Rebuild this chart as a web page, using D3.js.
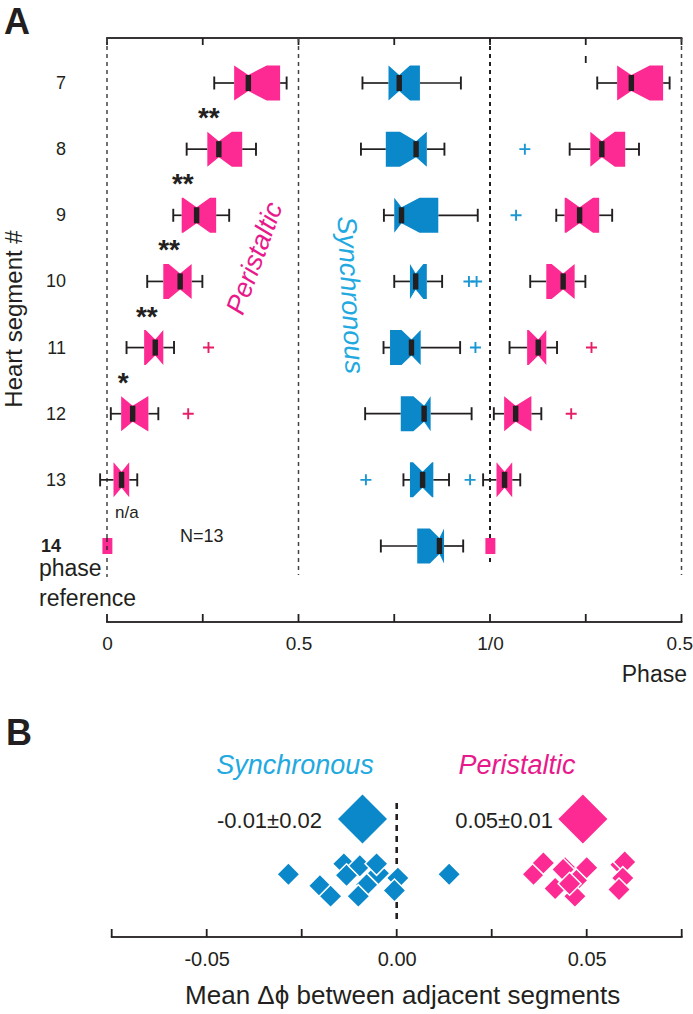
<!DOCTYPE html>
<html><head><meta charset="utf-8">
<script src="https://cdn.jsdelivr.net/npm/d3@7"></script>
<style>body{margin:0;background:#fff}svg{display:block;font-family:"Liberation Sans",Arial,sans-serif}</style>
</head><body><svg id="c" width="693" height="1014"></svg>
<script>
// ---------- Panel A data (phase, fraction of cycle) ----------
const segments = [7, 8, 9, 10, 11, 12, 13, 14];
const periSegments = [7, 8, 9, 10, 11, 12, 13];
const periWhiskerLo = [0.280, 0.208, 0.173, 0.105, 0.051, 0.010, -0.018];
const periQ1        = [0.332, 0.262, 0.195, 0.147, 0.097, 0.037, 0.017];
const periMedian    = [0.369, 0.292, 0.234, 0.191, 0.126, 0.067, 0.038];
const periQ3        = [0.452, 0.353, 0.285, 0.221, 0.147, 0.108, 0.058];
const periWhiskerHi = [0.469, 0.389, 0.319, 0.249, 0.175, 0.134, 0.079];
const periNotch     = [0.048, 0.034, 0.035, 0.030, 0.025, 0.040, 0.025];
const periOutlierSeg = [11, 12];
const periOutlierVal = [0.265, 0.212];
const refSeg = 14, refLo = -0.012, refHi = 0.014;   // phase reference segment

const syncSegments = [7, 8, 9, 10, 11, 12, 13, 14];
const syncWhiskerLo = [0.667, 0.663, 0.723, 0.750, 0.722, 0.674, 0.774, 0.715];
const syncQ1        = [0.735, 0.728, 0.750, 0.791, 0.739, 0.767, 0.791, 0.810];
const syncMedian    = [0.763, 0.807, 0.769, 0.806, 0.795, 0.828, 0.824, 0.868];
const syncQ3        = [0.817, 0.835, 0.865, 0.835, 0.819, 0.845, 0.852, 0.880];
const syncWhiskerHi = [0.924, 0.881, 0.968, 0.875, 0.922, 0.952, 0.893, 0.930];
const syncNotch     = [0.028, 0.042, 0.047, 0.020, 0.026, 0.028, 0.025, 0.025];
const syncOutlierSeg = [8, 9, 10, 10, 11, 13, 13];
const syncOutlierVal = [1.091, 1.068, 0.945, 0.965, 0.962, 0.676, 0.948];

const starSeg   = [7.5, 8.5, 9.5, 10.5, 11.5];
const starPhase = [0.266, 0.198, 0.162, 0.104, 0.042];
const starText  = ["**", "**", "**", "**", "*"];

const phaseTicks = [0, 0.25, 0.5, 0.75, 1, 1.25, 1.5];
const phaseLabels = ["0", "", "0.5", "", "1/0", "", "0.5"];

// ---------- Panel B data (mean delta phi) ----------
const syncDphi   = [-0.0285, -0.0202, -0.0174, -0.0139, -0.0132, -0.0097, -0.0079, -0.0101, -0.0048, -0.0053, 0.0003, -0.0006, 0.0138];
const syncJitter = [-0.3, 0.3, 0.85, -0.85, -0.25, -0.75, 0.25, 0.85, -0.35, -0.85, -0.1, 0.55, -0.3];
const periDphi   = [0.0360, 0.0386, 0.0417, 0.0443, 0.0474, 0.0469, 0.0500, 0.0438, 0.0455, 0.0590, 0.0600, 0.0595, 0.0585];
const periJitter = [-0.3, -0.9, 0.45, -0.65, 0.0, 0.85, -0.65, -0.55, 0.2, -0.8, -0.95, -0.1, 0.5];
const syncMean = -0.009, periMean = 0.049;
const syncLabel = "-0.01±0.02", periLabel = "0.05±0.01";
const bTicks = [-0.075, -0.05, -0.025, 0, 0.025, 0.05, 0.075];
const bTickLabels = ["", "-0.05", "", "0.00", "", "0.05", ""];

// ---------- styling ----------
const PINK = "#fc2a92", BLUE = "#0a88c9", BLUE_TXT = "#22a9e0", PINK_TXT = "#e8198b";
const PINK_OUT = "#e61e67", BLUE_OUT = "#1b97d4", INK = "#231f20";

const svg = d3.select("#c");
svg.append("rect").attr("width", 693).attr("height", 1014).attr("fill", "#fff");

const x = d3.scaleLinear().domain([0, 1.5]).range([107, 681.5]);
const y = d3.scaleLinear().domain([7, 14]).range([83, 546]);
const H = 17.5, INS = 9.5;

const gA = svg.append("g");
svg.append("text").attr("x", 4).attr("y", 34).attr("font-size", 36).attr("font-weight", "bold").attr("fill", INK).text("A");

// helper: axis line drawn as filled rectangles (crisp)
function hRule(g, x1, x2, yy, w) { g.append("rect").attr("x", x1 - w / 2).attr("y", yy - w / 2).attr("width", x2 - x1 + w).attr("height", w).attr("fill", INK); }
function vRule(g, xx, y1, y2, w) { g.append("rect").attr("x", xx - w / 2).attr("y", Math.min(y1, y2)).attr("width", w).attr("height", Math.abs(y2 - y1)).attr("fill", INK); }

// top axis
hRule(gA, x(0), x(1.5), 38, 1.8);
phaseTicks.forEach(d => vRule(gA, x(d), 38, 45, 1.8));
vRule(gA, x(1.25), 56, 63, 1.8);

// dashed reference lines
const dashEnd = [577, 575, 565, 575];
[0, 0.5, 1, 1.5].forEach((p, i) => {
  gA.append("line").attr("x1", x(p)).attr("x2", x(p)).attr("y1", 38).attr("y2", dashEnd[i])
    .attr("stroke", p === 1 ? INK : "#444").attr("stroke-width", p === 1 ? 2 : 1.5)
    .attr("stroke-dasharray", "4,4");
});

// bottom axis (ticks/labels through d3 axis, rules as rects)
const xAxis = d3.axisBottom(x).tickValues(phaseTicks).tickFormat((d, i) => phaseLabels[i]).tickSize(0).tickPadding(15);
const ax = gA.append("g").attr("transform", "translate(0,622)").call(xAxis);
ax.select(".domain").remove();
ax.selectAll(".tick text").attr("font-size", 19).attr("fill", INK).attr("font-family", "Liberation Sans, Arial");
ax.selectAll(".tick text").filter((d, i) => i === phaseTicks.length - 1).attr("text-anchor", "end").attr("dx", 11);
hRule(gA, x(0), x(1.5), 622, 1.8);
phaseTicks.forEach(d => vRule(gA, x(d), 614, 622, 1.8));
gA.append("text").attr("x", 687).attr("y", 682).attr("text-anchor", "end").attr("font-size", 23).attr("fill", INK).text("Phase");

// row labels
gA.selectAll(".rl").data(segments.filter(s => s < 14)).join("text")
  .attr("x", 66).attr("y", d => y(d) + 6).attr("text-anchor", "end").attr("font-size", 18).attr("fill", INK).text(d => d);
gA.append("text").attr("x", 41).attr("y", 552).attr("font-size", 18).attr("font-weight", "bold").attr("fill", INK).text("14");
gA.append("text").attr("x", 39).attr("y", 576).attr("font-size", 23).attr("fill", INK).text("phase");
gA.append("text").attr("x", 39).attr("y", 606).attr("font-size", 23).attr("fill", INK).text("reference");
gA.append("text").attr("transform", "translate(22,319) rotate(-90)").attr("text-anchor", "middle")
  .attr("font-size", 24).attr("fill", INK).text("Heart segment #");

function boxPath(q1, med, q3, notch, yc) {
  const nLo = Math.max(q1, med - notch), nHi = Math.min(q3, med + notch);
  const pts = [[q1, yc - H], [nLo, yc - H], [med, yc - H + INS], [nHi, yc - H], [q3, yc - H],
               [q3, yc + H], [nHi, yc + H], [med, yc + H - INS], [nLo, yc + H], [q1, yc + H]];
  return "M" + pts.map(p => x(p[0]) + "," + p[1]).join("L") + "Z";
}

function drawBoxes(segs, wlo, q1, med, q3, whi, notch, color, shift) {
  segs.forEach((s, i) => {
    const yc = y(s);
    const g = gA.append("g");
    g.append("line").attr("x1", x(wlo[i] + shift)).attr("x2", x(q1[i] + shift)).attr("y1", yc).attr("y2", yc).attr("stroke", INK).attr("stroke-width", 1.7);
    g.append("line").attr("x1", x(q3[i] + shift)).attr("x2", x(whi[i] + shift)).attr("y1", yc).attr("y2", yc).attr("stroke", INK).attr("stroke-width", 1.7);
    [wlo[i], whi[i]].forEach(v => g.append("line").attr("x1", x(v + shift)).attr("x2", x(v + shift)).attr("y1", yc - 6.5).attr("y2", yc + 6.5).attr("stroke", INK).attr("stroke-width", 1.9));
    g.append("path").attr("d", boxPath(q1[i] + shift, med[i] + shift, q3[i] + shift, notch[i], yc)).attr("fill", color);
    g.append("rect").attr("x", x(med[i] + shift) - 2.7).attr("width", 5.4).attr("y", yc - H + INS).attr("height", 2 * (H - INS)).attr("fill", INK);
  });
}

function drawPlus(segs, vals, color) {
  segs.forEach((s, i) => {
    const cx = x(vals[i]), cy = y(s);
    gA.append("path").attr("d", `M${cx - 5.5},${cy}H${cx + 5.5}M${cx},${cy - 5.5}V${cy + 5.5}`).attr("stroke", color).attr("stroke-width", 1.9);
  });
}

drawBoxes(periSegments, periWhiskerLo, periQ1, periMedian, periQ3, periWhiskerHi, periNotch, PINK, 0);
drawBoxes(periSegments, periWhiskerLo, periQ1, periMedian, periQ3, periWhiskerHi, periNotch, PINK, 1);
drawBoxes(syncSegments, syncWhiskerLo, syncQ1, syncMedian, syncQ3, syncWhiskerHi, syncNotch, BLUE, 0);
drawPlus(periOutlierSeg, periOutlierVal, PINK_OUT);
drawPlus(periOutlierSeg, periOutlierVal.map(v => v + 1), PINK_OUT);
drawPlus(syncOutlierSeg, syncOutlierVal, BLUE_OUT);

// reference segment boxes (phase 0 and its wrap at 1)
[0, 1].forEach(sh => {
  gA.append("rect").attr("x", x(refLo + sh)).attr("width", x(refHi) - x(refLo)).attr("y", y(refSeg) - (H - INS)).attr("height", 2 * (H - INS)).attr("fill", PINK);
});
gA.append("line").attr("x1", x(0)).attr("x2", x(0)).attr("y1", y(refSeg) - 8).attr("y2", y(refSeg) + 8)
  .attr("stroke", INK).attr("stroke-width", 1.5).attr("stroke-dasharray", "4,4").attr("opacity", 0.85);

// significance stars
gA.selectAll(".st").data(starSeg).join("text")
  .attr("x", (d, i) => x(starPhase[i])).attr("y", d => y(d) + 11).attr("text-anchor", "middle")
  .attr("font-size", 28).attr("font-weight", "bold").attr("fill", INK).text((d, i) => starText[i]);

gA.append("text").attr("x", 115).attr("y", 518).attr("font-size", 17).attr("fill", INK).text("n/a");
gA.append("text").attr("x", 180).attr("y", 542).attr("font-size", 18).attr("fill", INK).text("N=13");

gA.append("text").attr("transform", "translate(254,258) rotate(-70)").attr("text-anchor", "middle")
  .attr("font-size", 27).attr("font-style", "italic").attr("fill", PINK_TXT).attr("dy", "0.35em").text("Peristaltic");
gA.append("text").attr("transform", "translate(351,295) rotate(87)").attr("text-anchor", "middle")
  .attr("font-size", 27).attr("font-style", "italic").attr("fill", BLUE_TXT).attr("dy", "0.35em").text("Synchronous");

// ---------- Panel B ----------
const gB = svg.append("g");
svg.append("text").attr("x", 6).attr("y", 745).attr("font-size", 36).attr("font-weight", "bold").attr("fill", INK).text("B");
const xb = d3.scaleLinear().domain([-0.075, 0.075]).range([111.7, 681.7]);
const yj = d3.scaleLinear().domain([-1, 1]).range([861, 899]);

const bAxis = d3.axisBottom(xb).tickValues(bTicks).tickFormat((d, i) => bTickLabels[i]).tickSize(0).tickPadding(15);
const bx = gB.append("g").attr("transform", "translate(0,937)").call(bAxis);
bx.select(".domain").remove();
bx.selectAll(".tick text").attr("font-size", 20).attr("fill", INK).attr("font-family", "Liberation Sans, Arial");
hRule(gB, xb(-0.075), xb(0.075), 937, 1.8);
bTicks.forEach(d => vRule(gB, xb(d), 929, 937, 1.8));
gB.append("text").attr("x", xb(0) + 6).attr("y", 1004).attr("text-anchor", "middle").attr("font-size", 26).attr("fill", INK)
  .text("Mean Δϕ between adjacent segments");

gB.append("line").attr("x1", xb(0)).attr("x2", xb(0)).attr("y1", 803).attr("y2", 920).attr("stroke", INK).attr("stroke-width", 2.6).attr("stroke-dasharray", "6,5");

const sq = (s) => d3.symbol().type(d3.symbolSquare).size(s)();
const small = 2 * 11.5 * 11.5, big = 2 * 24.5 * 24.5;
syncDphi.forEach((v, i) => gB.append("path").attr("d", sq(small)).attr("transform", `translate(${xb(v)},${yj(syncJitter[i])}) rotate(45)`)
  .attr("fill", BLUE).attr("stroke", "#fff").attr("stroke-width", 1.5));
periDphi.forEach((v, i) => gB.append("path").attr("d", sq(small)).attr("transform", `translate(${xb(v)},${yj(periJitter[i])}) rotate(45)`)
  .attr("fill", PINK).attr("stroke", "#fff").attr("stroke-width", 1.5));
gB.append("path").attr("d", sq(big)).attr("transform", `translate(${xb(syncMean)},819) rotate(45)`).attr("fill", BLUE);
gB.append("path").attr("d", sq(big)).attr("transform", `translate(${xb(periMean)},819) rotate(45)`).attr("fill", PINK);
gB.append("text").attr("x", 322).attr("y", 828).attr("text-anchor", "end").attr("font-size", 22).attr("fill", INK).text(syncLabel);
gB.append("text").attr("x", 553).attr("y", 828).attr("text-anchor", "end").attr("font-size", 22).attr("fill", INK).text(periLabel);
gB.append("text").attr("x", 295).attr("y", 774).attr("text-anchor", "middle").attr("font-size", 27).attr("font-style", "italic").attr("fill", BLUE_TXT).text("Synchronous");
gB.append("text").attr("x", 517).attr("y", 774).attr("text-anchor", "middle").attr("font-size", 27).attr("font-style", "italic").attr("fill", PINK_TXT).text("Peristaltic");
</script></body></html>
